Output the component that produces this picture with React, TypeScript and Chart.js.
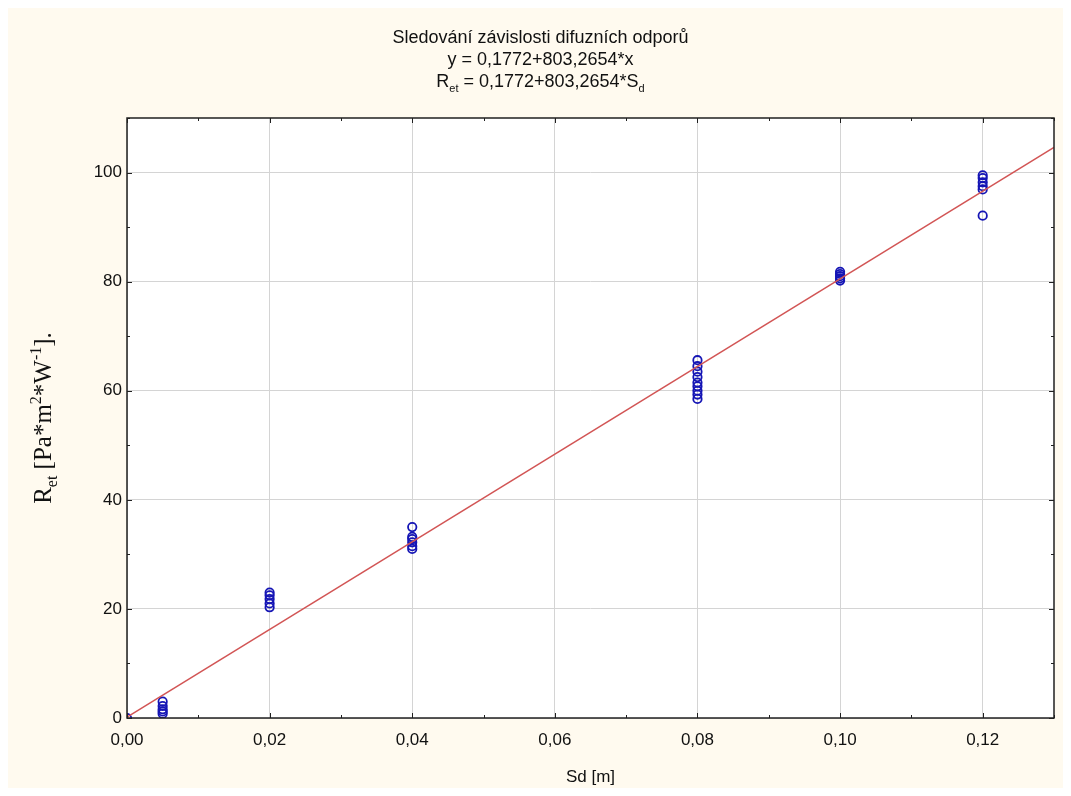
import React, { useEffect, useRef } from "react";
import { Chart, registerables } from "chart.js";
Chart.register(...registerables);

const xGroups = [0, 0.005, 0.02, 0.04, 0.08, 0.1, 0.12];
const yGroups: number[][] = [
  [0],
  [0.8, 1.2, 1.6, 2.2, 3.0],
  [20.3, 21.0, 21.8, 22.5, 23.0],
  [31.0, 31.5, 32.2, 32.8, 33.2, 35.0],
  [58.5, 59.3, 60.0, 60.8, 61.5, 62.5, 63.5, 64.5, 65.6],
  [80.2, 80.6, 81.0, 81.4, 81.8],
  [92.1, 96.9, 97.5, 98.2, 99.0, 99.5],
];
const fitX = [0, 0.13];
const fitY = [0.1772, 104.602];
const xTicks = [0, 0.02, 0.04, 0.06, 0.08, 0.1, 0.12];
const yTicks = [0, 20, 40, 60, 80, 100];

const BG = "#fffaef";
const SANS = "'Liberation Sans', Arial, sans-serif";

function drawSub(ctx: CanvasRenderingContext2D, parts: [string, number][], cx: number, y: number, size: number, family: string) {
  const widths = parts.map(([t, m]) => {
    ctx.font = `${m === 0 ? size : Math.round(size * 0.62)}px ${family}`;
    return ctx.measureText(t).width;
  });
  const total = widths.reduce((a, b) => a + b, 0);
  let x = cx - total / 2;
  parts.forEach(([t, m], i) => {
    ctx.font = `${m === 0 ? size : Math.round(size * 0.62)}px ${family}`;
    const dy = m === 1 ? size * 0.25 : m === 2 ? -size * 0.4 : 0;
    ctx.fillText(t, x, y + dy);
    x += widths[i];
  });
}

const decorPlugin = {
  id: "decor",
  beforeDraw(chart: any) {
    const { ctx, width, height, chartArea } = chart;
    ctx.save();
    ctx.fillStyle = BG;
    ctx.fillRect(0, 0, width, height);
    ctx.fillStyle = "#ffffff";
    ctx.fillRect(chartArea.left, chartArea.top, chartArea.right - chartArea.left, chartArea.bottom - chartArea.top);
    ctx.restore();
  },
  afterDraw(chart: any) {
    const { ctx, chartArea, width } = chart;
    const xs = chart.scales.x;
    const ys = chart.scales.y;
    ctx.save();
    ctx.strokeStyle = "#202020";
    ctx.lineWidth = 1.5;
    ctx.strokeRect(chartArea.left, chartArea.top, chartArea.right - chartArea.left, chartArea.bottom - chartArea.top);
    ctx.lineWidth = 1;
    ctx.beginPath();
    for (let v = 0; v <= 0.1301; v += 0.01) {
      const px = Math.round(xs.getPixelForValue(v)) + 0.5;
      const major = Math.abs(Math.round(v * 100) % 2) === 0;
      const len = major ? 5 : 3;
      ctx.moveTo(px, chartArea.bottom);
      ctx.lineTo(px, chartArea.bottom - len);
      ctx.moveTo(px, chartArea.top);
      ctx.lineTo(px, chartArea.top + len);
    }
    for (let v = 0; v <= 110; v += 10) {
      const py = Math.round(ys.getPixelForValue(v)) + 0.5;
      const len = v % 20 === 0 ? 5 : 3;
      ctx.moveTo(chartArea.left, py);
      ctx.lineTo(chartArea.left + len, py);
      ctx.moveTo(chartArea.right, py);
      ctx.lineTo(chartArea.right - len, py);
    }
    ctx.stroke();
    ctx.fillStyle = "#111111";
    ctx.textBaseline = "alphabetic";
    ctx.textAlign = "left";
    const cx = width / 2 + 5;
    drawSub(ctx, [["Sledování závislosti difuzních odporů", 0]], cx, 35, 18, SANS);
    drawSub(ctx, [["y = 0,1772+803,2654*x", 0]], cx, 57, 18, SANS);
    drawSub(ctx, [["R", 0], ["et", 1], [" = 0,1772+803,2654*S", 0], ["d", 1]], cx, 79, 18, SANS);
    ctx.save();
    ctx.translate(43, 410);
    ctx.rotate(-Math.PI / 2);
    drawSub(ctx, [["R", 0], ["et", 1], [" [Pa*m", 0], ["2", 2], ["*W", 0], ["-1", 2], ["].", 0]], 0, 0, 25, "'Liberation Serif', 'Times New Roman', serif");
    ctx.restore();
    ctx.restore();
  },
};

export default function App() {
  const ref = useRef<HTMLCanvasElement>(null);
  useEffect(() => {
    if (!ref.current) return;
    const pts: { x: number; y: number }[] = [];
    xGroups.forEach((x, i) => yGroups[i].forEach((y) => pts.push({ x, y })));
    const chart = new Chart(ref.current, {
      type: "scatter",
      data: {
        datasets: [
          {
            type: "line" as any,
            data: fitX.map((x, i) => ({ x, y: fitY[i] })),
            borderColor: "#d25555",
            borderWidth: 1.5,
            pointRadius: 0,
            fill: false,
          },
          {
            data: pts,
            pointRadius: 4.2,
            pointBorderWidth: 1.8,
            pointBorderColor: "#1515b5",
            pointBackgroundColor: "rgba(255,255,255,0)",
            showLine: false,
          },
        ],
      },
      plugins: [decorPlugin],
      options: {
        animation: false,
        responsive: false,
        layout: { padding: { left: 0, right: 9, top: 110, bottom: 0 } },
        plugins: { legend: { display: false }, tooltip: { enabled: false }, title: { display: false } },
        scales: {
          x: {
            type: "linear",
            min: 0,
            max: 0.13,
            afterBuildTicks: (s: any) => {
              s.ticks = xTicks.map((v) => ({ value: v }));
            },
            afterFit: (s: any) => {
              s.height = 70;
            },
            ticks: {
              color: "#111",
              font: { family: SANS, size: 17 },
              padding: 12,
              callback: (v: any) => Number(v).toFixed(2).replace(".", ","),
              maxRotation: 0,
            },
            grid: { color: "#d4d4d4", lineWidth: 1, drawTicks: false },
            border: { display: false },
            title: {
              display: true,
              text: "Sd [m]",
              color: "#111",
              font: { family: SANS, size: 17 },
              padding: { top: 8, bottom: 0 },
            },
          },
          y: {
            type: "linear",
            min: 0,
            max: 110,
            afterBuildTicks: (s: any) => {
              s.ticks = yTicks.map((v) => ({ value: v }));
            },
            afterFit: (s: any) => {
              s.width = 119;
            },
            ticks: {
              color: "#111",
              font: { family: SANS, size: 17 },
              padding: 5,
            },
            grid: { color: "#d4d4d4", lineWidth: 1, drawTicks: false },
            border: { display: false },
          },
        },
      },
    });
    return () => chart.destroy();
  }, []);
  return (
    <div style={{ width: 1055, height: 780 }}>
      <canvas ref={ref} width={1055} height={780} style={{ display: "block" }} />
    </div>
  );
}
